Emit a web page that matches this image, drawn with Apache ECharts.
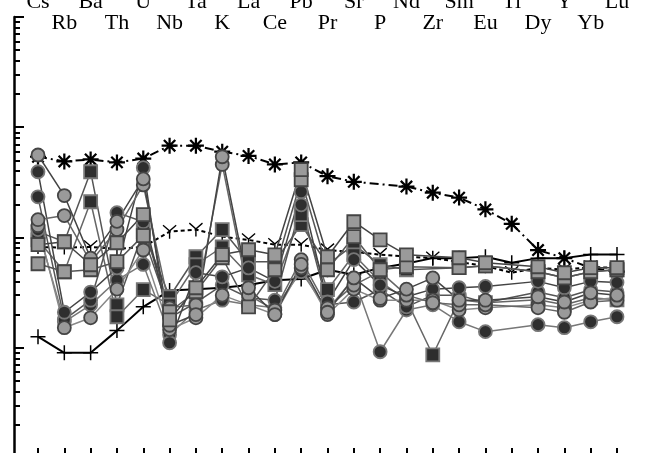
<!DOCTYPE html>
<html><head><meta charset="utf-8">
<script src="https://cdn.jsdelivr.net/npm/echarts@6/dist/echarts.min.js"></script>
<style>html,body{margin:0;padding:0;background:#fff;overflow:hidden}#c{width:647px;height:453px}</style>
</head><body><div id="c"></div>
<script>
// Elements (x categories)
const elements = ['Cs','Rb','Ba','Th','U','Nb','Ta','K','La','Ce','Pb','Pr','Sr','P','Nd','Zr','Sm','Eu','Ti','Dy','Y','Yb','Lu'];
// y-axis ticks (log scale)
const majorTicks = [0.1, 1, 10, 100, 1000];
const minorTicks = [];
[0.1, 1, 10, 100].forEach(d => { for (let k = 2; k <= 9; k++) minorTicks.push(+(d * k).toPrecision(3)); });

// Reference patterns
const OIB   = [54, 49, 51, 48, 52, 68, 68, 60, 55, 46, 48, 36, 32, null, 29, 25.5, 23, 18, 13.3, 7.7, 6.5, 5.3, 4.9];
const EMORB = [8.2, 8.1, 8.2, 7.9, 8.2, 11.3, 11.8, 10.2, 9.5, 8.6, 8.6, 7.7, 7.4, 7.0, 6.7, 6.5, 6.0, 5.5, 4.8, 5.3, 5.1, 5.4, 5.3];
const NMORB = [1.26, 0.90, 0.90, 1.43, 2.35, 3.3, 3.4, 3.5, 3.7, 4.1, 4.2, 5.1, 4.6, 5.3, 5.8, 6.5, 6.5, 6.7, 5.9, 6.5, 6.5, 7.0, 7.0];

// Samples: gray circles
const sA = [56, 24, 6.5, 14, 34, 1.6, 2.0, 54, 3.5, 2.0, 5.7, 2.1, 4.3, 2.8, 3.4, 4.3, 2.7, 2.7, null, 2.9, 2.6, 3.15, 3.0];
const sB = [14.5, 15.8, 6.0, 11.8, 30, 2.3, 2.45, 46, 3.0, 2.2, 6.3, 2.3, 3.7, 4.9, 3.0, 2.56, 2.45, 2.45, null, 2.3, 2.1, 2.6, 2.7];
const sC = [12.8, 1.52, 1.87, 3.4, 7.7, 1.46, 1.87, 3.0, 2.45, 2.0, 5.3, 2.0, 3.4, 2.7, 2.7, 2.7, 2.2, 2.3, null, 2.45, 2.3, 2.7, 2.85];
// Samples: dark circles
const sD = [39.5, 2.1, 3.2, 5.3, 43, 1.11, 4.8, 4.4, 5.3, 4.0, 26, 2.6, 6.3, 3.7, 2.9, 3.4, 3.5, 3.6, null, 4.0, 3.5, 4.0, 3.9];
const sE = [23.4, 1.8, 2.7, 16.8, 13.9, 1.87, 2.56, 3.7, 2.84, 2.7, 19.8, 2.45, 2.6, 3.36, 2.35, 3.0, 3.0, 2.56, null, 3.2, 2.84, 3.36, 3.2];
const sF = [11.8, 1.72, 2.45, 4.1, 5.7, 1.31, 2.2, 2.7, 2.45, 2.3, 4.9, 2.2, 4.3, 0.92, 2.2, 2.45, 1.72, 1.4, null, 1.62, 1.52, 1.72, 1.91];
// Samples: gray squares
const sG = [8.6, 9.15, 5.66, 8.96, 16.1, 1.79, 3.5, 7.0, 7.74, 6.97, 41.2, 6.69, 13.9, 9.5, 6.97, null, 6.55, 5.9, null, 5.43, 4.79, 5.32, 5.32];
const sH = [5.78, 4.89, 5.1, 6.03, 10.4, 2.12, 3.22, 6.55, 2.35, 5.1, 33.4, 5.1, 10.2, 5.1, 5.43, null, 5.32, 5.54, null, 4.89, 4.31, 4.89, 5.1];
// Samples: dark squares
const sI = [11.3, 9.15, 39.5, 2.45, 11.3, 2.9, 6.69, 11.8, 6.03, 6.03, 13.1, 5.66, 8.6, 5.66, 5.1, null, 5.32, 5.54, null, 4.89, 4.31, 4.89, 5.1];
const sJ = [9.5, 4.89, 21.1, 1.91, 3.36, 2.45, 5.66, 8.2, 4.59, 3.73, 16.1, 3.36, 6.97, 3.97, 2.72, 0.86, 2.72, 2.56, null, 2.72, 2.45, 2.84, 2.72];

const STAR = 'path://M8.6,0 H11.4 V20 H8.6 Z M0,8.6 H20 V11.4 H0 Z M1.9,3.9 L3.9,1.9 L18.1,16.1 L16.1,18.1 Z M16.1,1.9 L18.1,3.9 L3.9,18.1 L1.9,16.1 Z';
const PLUS = 'path://M9,0 H11 V9 H20 V11 H11 V20 H9 V11 H0 V9 H9 Z';
const TRI = 'path://M1.2,0 L10,7.6 L18.8,0 L20,1.6 L11,9.4 L11,20 L9,20 L9,9.4 L0,1.6 Z';

function ref(name, data, symbol, size, dash) {
  return { name, type: 'line', data, connectNulls: true, symbol, symbolSize: size, showAllSymbol: true,
    itemStyle: { color: '#000', borderWidth: 0 },
    lineStyle: { color: '#000', width: 2, type: dash },
    emphasis: { disabled: true }, animation: false, z: 2 };
}
function smp(data, shape, fill, border, lineColor) {
  return { type: 'line', data, connectNulls: true, symbol: shape, showAllSymbol: true,
    symbolSize: 13,
    itemStyle: { color: fill, borderColor: border, borderWidth: 1.8 },
    lineStyle: { color: lineColor, width: 1.5 },
    emphasis: { disabled: true }, animation: false, z: 3 };
}
const GRAY = '#9a9a9a', DARK = '#2e2e2e';
const series = [
  ref('OIB', OIB, STAR, 16, [9, 4, 2, 4]),
  ref('E-MORB', EMORB, TRI, 14, [4, 3]),
  ref('N-MORB', NMORB, PLUS, 15, 'solid'),
  smp(sI, 'rect', DARK, '#777', '#555'),
  smp(sJ, 'rect', DARK, '#777', '#666'),
  smp(sF, 'circle', DARK, '#777', '#777'),
  smp(sE, 'circle', DARK, '#777', '#555'),
  smp(sD, 'circle', DARK, '#777', '#444'),
  smp(sC, 'circle', GRAY, '#444', '#888'),
  smp(sB, 'circle', GRAY, '#444', '#666'),
  smp(sA, 'circle', GRAY, '#444', '#444'),
  smp(sH, 'rect', GRAY, '#444', '#555'),
  smp(sG, 'rect', GRAY, '#444', '#444')
];

const labelFont = { fontFamily: '"Liberation Serif","Times New Roman",serif', fontSize: 22, color: '#000' };
const chart = echarts.init(document.getElementById('c'), null, { renderer: 'canvas' });
chart.setOption({
  animation: false,
  backgroundColor: '#fff',
  grid: { left: 38, right: 30, top: 17, bottom: -5, containLabel: false, outerBoundsMode: 'none' },
  xAxis: [
    { type: 'category', data: elements, boundaryGap: false, position: 'bottom',
      axisLine: { show: true, lineStyle: { color: '#000', width: 2 } },
      axisTick: { show: true, inside: true, length: 10, alignWithLabel: true, lineStyle: { color: '#000', width: 2 } },
      axisLabel: { show: false }, splitLine: { show: false } },
    { type: 'category', data: elements, boundaryGap: false, position: 'top',
      axisLine: { show: false }, axisTick: { show: false }, splitLine: { show: false },
      axisLabel: Object.assign({ interval: 0, margin: 4, formatter: (v, i) => (i % 2 === 0 ? v : '') }, labelFont) },
    { type: 'category', data: elements, boundaryGap: false, position: 'top',
      axisLine: { show: false }, axisTick: { show: false }, splitLine: { show: false },
      axisLabel: Object.assign({ interval: 0, margin: -17, formatter: (v, i) => (i % 2 === 1 ? v : '') }, labelFont) }
  ],
  yAxis: [
    { type: 'log', logBase: 10, min: 0.1, max: 1000, position: 'left', offset: 24,
      axisLine: { show: true, lineStyle: { color: '#000', width: 2.5 } },
      axisTick: { show: true, inside: true, length: 10, customValues: majorTicks, lineStyle: { color: '#000', width: 2 } },
      axisLabel: { show: false }, splitLine: { show: false }, minorTick: { show: false } },
    { type: 'log', logBase: 10, min: 0.1, max: 1000, position: 'left', offset: 24,
      axisLine: { show: false },
      axisTick: { show: true, inside: true, length: 6, customValues: minorTicks, lineStyle: { color: '#000', width: 2 } },
      axisLabel: { show: false }, splitLine: { show: false } }
  ],
  series
});
</script></body></html>
